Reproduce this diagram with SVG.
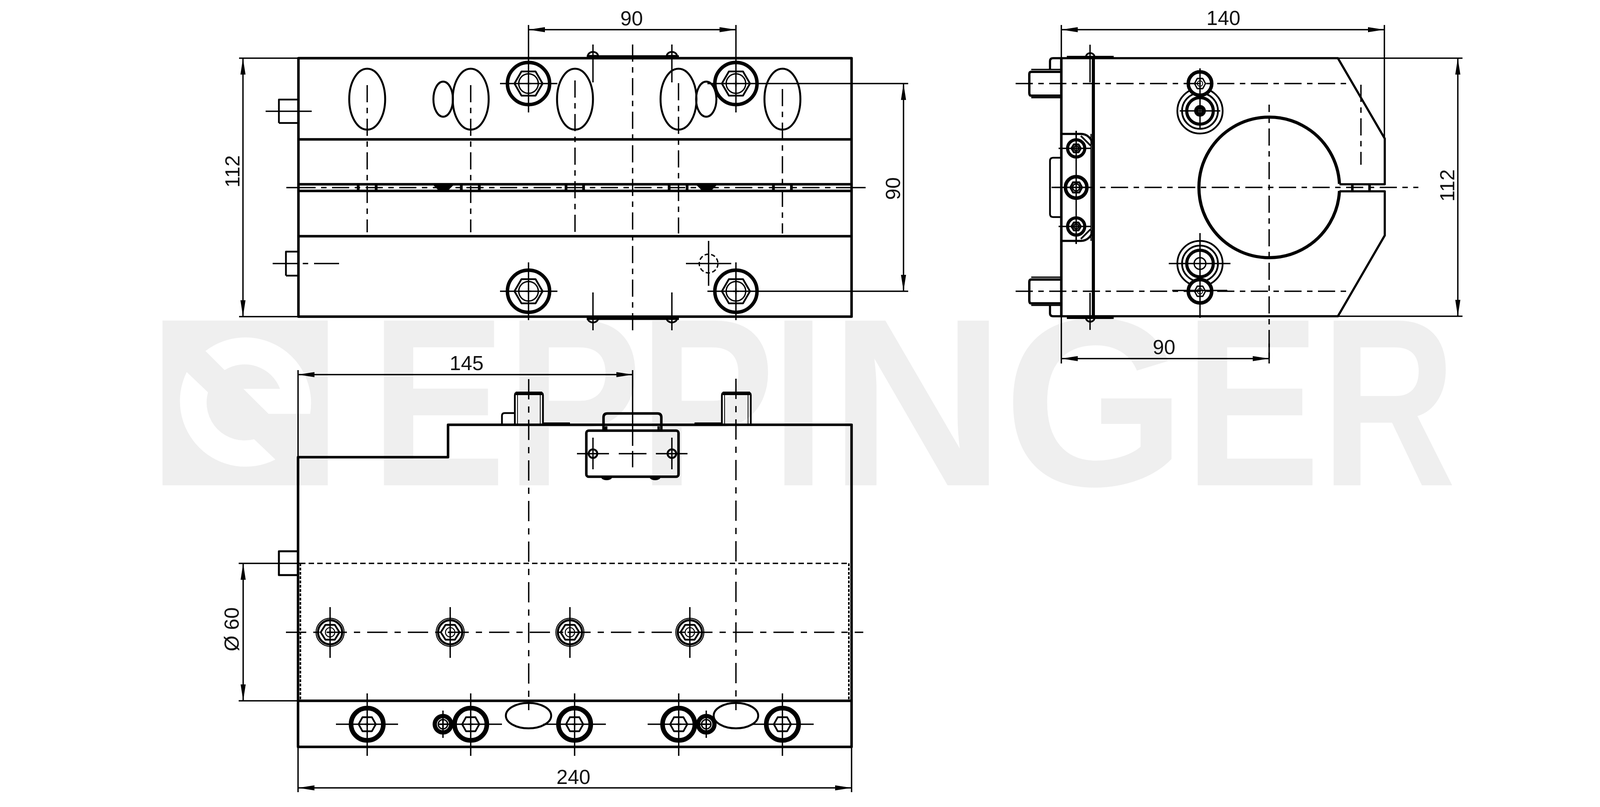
<svg xmlns="http://www.w3.org/2000/svg" width="4134" height="2067" viewBox="0 0 4134 2067">
<style>
.wm{font-family:"Liberation Sans",Arial,sans-serif;font-weight:700;font-size:613px;fill:#efefef}
.t{font-family:"Liberation Sans",Arial,sans-serif;font-size:52px;fill:#111;text-anchor:middle}
.o{fill:none;stroke:#000;stroke-width:6.5;stroke-linejoin:round}
.m{fill:none;stroke:#000;stroke-width:4.5;stroke-linejoin:round}
.n{fill:none;stroke:#000;stroke-width:3.5}
.th{fill:none;stroke:#000;stroke-width:2}
.c{fill:none;stroke:#000;stroke-width:3.5;stroke-dasharray:44 14 14 14}
.cb{fill:none;stroke:#000;stroke-width:3.5;stroke-dasharray:52 18 16 18}
.h{fill:none;stroke:#000;stroke-width:3.5;stroke-dasharray:14 8}
.hv{fill:none;stroke:#000;stroke-width:4;stroke-dasharray:7 4}
.d{fill:none;stroke:#000;stroke-width:3.5;marker-start:url(#a);marker-end:url(#a)}
.f{fill:#fff;stroke:#000}
</style>
<defs>
<marker id="a" markerUnits="userSpaceOnUse" markerWidth="44" markerHeight="14" refX="42" refY="7" orient="auto-start-reverse"><path d="M0 .5L42 7L0 13.5Z" fill="#000"/></marker>
<g id="bL"><circle r="54" class="o" style="stroke-width:9"/><path d="M-36 0L-18-31H18L36 0L18 31H-18Z" class="m"/><circle r="25" class="n"/><path d="M-7 0H7M0-7V7" class="n"/></g>
<g id="bB"><circle r="45" class="m"/><circle r="40" class="o" style="stroke-width:9"/><path d="M-22 0L-12-18H12L22 0L12 18H-12Z" class="m"/><path d="M-6 0H6M0-6V6" class="n"/></g>
<g id="bS"><circle r="36" class="th" style="stroke-width:2.5"/><circle r="31" class="o" style="stroke-width:5.5"/><path d="M-24 0L-12-19H12L24 0L12 19H-12Z" class="m"/><circle r="12" class="th" style="stroke-width:2.5"/><path d="M-6 0H6M0-6V6" class="n"/></g>
<g id="bK"><circle r="21" class="o" style="stroke-width:11"/><circle r="12" class="n"/><path d="M-12 0H12M0-12V12" class="n"/></g>
<g id="bC"><circle r="30" class="f" style="stroke-width:9"/><path d="M-14 0L-7-13H7L14 0L7 13H-7Z" class="m" style="stroke-width:3.5"/><circle r="7" class="th"/></g>
<g id="bCa"><circle r="22" class="f" style="stroke-width:8"/><path d="M-12 0L-6-10H6L12 0L6 10H-6Z" class="o" style="stroke-width:5"/><circle r="6" class="n"/></g>
<g id="bCb"><circle r="27.5" class="f" style="stroke-width:9"/><path d="M-15 0L-8-13H8L15 0L8 13H-8Z" class="o" style="stroke-width:5"/><circle r="9" class="n"/></g>
<g id="conc"><circle r="58" class="m"/><circle r="46" class="m"/><circle r="34" class="o" style="stroke-width:8"/></g>
</defs>

<g id="watermark">
<rect x="416" y="821" width="423" height="422" fill="#efefef"/>
<path d="M526 899L575 948A97 97 0 0 1 717 996H623L687.500 1060H794A168 168 0 0 0 526 899ZM478 953L532.500 1005A97 97 0 0 0 650.500 1125L705 1177A168 168 0 0 1 478 953Z" fill="#fff"/>
<text class="wm" transform="translate(948 1243) scale(.85 1)">E</text>
<text class="wm" transform="translate(1294.5 1243) scale(.855 1)">P</text>
<text class="wm" transform="translate(1634.5 1243) scale(.855 1)">P</text>
<text class="wm" transform="translate(1975 1243) scale(.81 1)">I</text>
<text class="wm" transform="translate(2122 1243) scale(1.02 1)">N</text>
<text class="wm" transform="translate(2569 1243) scale(.98 1)">G</text>
<text class="wm" transform="translate(3031 1243) scale(.855 1)">E</text>
<text class="wm" transform="translate(3382 1243) scale(.78 1)">R</text>
</g>

<g id="front-view">
<path d="M764 149H2180V811H764ZM764 357H2180M764 605H2180M764 472H2180M764 489H2180" class="o"/>
<path d="M764 480.5H2180" class="c"/>
<path d="M917 472V489M963 472V489M1181 472V489M1227 472V489M1449 472V489M1494 472V489M1713 472V489M1759 472V489M1980 472V489M2026 472V489" class="o" style="stroke-width:7"/>
<path d="M1110 475H1160L1148 487H1122ZM1784 475H1834L1822 487H1796Z" fill="#000"/>
<g class="m" style="stroke-width:5">
<ellipse cx="940" cy="254" rx="46" ry="78"/><ellipse cx="1134.5" cy="254" rx="25" ry="45"/><ellipse cx="1205" cy="254" rx="46" ry="78"/><ellipse cx="1472" cy="254" rx="46" ry="78"/><ellipse cx="1737" cy="254" rx="46" ry="78"/><ellipse cx="1808" cy="254" rx="26" ry="45"/><ellipse cx="2003" cy="254" rx="46" ry="78"/>
</g>
<path d="M940 218V595M1205 218V595M1472 206V598M1737 213V598M2003 228V598" class="c"/>
<path d="M1619.5 114V846" class="c"/>
<use href="#bL" x="1353" y="214"/><use href="#bL" x="1884" y="214"/><use href="#bL" x="1353" y="746"/><use href="#bL" x="1884" y="746"/>
<path d="M1280 214H1427M1280 746H1427M1353 672V820M1884 672V820M1353 64V288M1884 64V288M1811 214H2325M1811 746H2325" class="n"/>
<path d="M714 315V255H761M714 315H761M732 706V644.500H761M732 706H761" class="m"/>
<path d="M680 285H798M698 675H761M775 675H789M804 675H868M733 480.500H761M2181 480.500H2216" class="n"/>
<path d="M1502 145H1738M1502 816H1738" class="o" style="stroke-width:7"/>
<path d="M1505 143A13 10 0 0 1 1531 143ZM1707 143A13 10 0 0 1 1733 143ZM1505 816A13 10 0 0 0 1531 816ZM1707 816A13 10 0 0 0 1733 816Z" class="m"/>
<path d="M1518 114V211M1720 114V211M1518 749V846M1720 749V846" class="n"/>
<circle cx="1814" cy="675" r="24" class="m" style="stroke-dasharray:11 6;stroke-width:3.5"/>
<path d="M1756 675H1872M1814 617V732" class="n"/>
</g>

<g id="side-view">
<path d="M2688 178V157Q2688 149 2696 149H3425L3545 355V472H3429M3429 490H3545V603L3425 810H2696Q2688 810 2688 802V781" class="o" style="stroke-width:5.5"/>
<path d="M2717 149V810" class="o"/>
<path d="M2799 149V810" class="o" style="stroke-width:8"/>
<path d="M3429 471A180 180 0 1 0 3429 489" class="o" style="stroke-width:8"/>
<path d="M3462 472V490M3506 472V490" class="o"/>
<path d="M2731 146H2851M2731 814H2851" class="o" style="stroke-width:6"/>
<path d="M2780 146A11 10 0 0 1 2802 146ZM2780 814A11 10 0 0 0 2802 814Z" class="m"/>
<path d="M2717 184H2640Q2635 184 2635 190V238Q2635 245 2640 245H2717M2717 716H2640Q2635 716 2635 722V770Q2635 777 2640 777H2717" class="o" style="stroke-width:6"/>
<path d="M2640 178H2717M2640 250H2717M2640 710H2717M2640 782H2717" class="n"/>
<path d="M2717 404H2696Q2688 404 2688 412V548Q2688 556 2696 556H2717" class="m"/>
<use href="#conc" x="3072" y="284"/><circle cx="3072" cy="284" r="15" fill="#000"/><circle cx="3072" cy="284" r="4" fill="#fff"/>
<use href="#conc" x="3072" y="675"/><circle cx="3072" cy="675" r="15" class="n"/>
<use href="#bC" x="3072" y="214"/><use href="#bC" x="3072" y="746"/>
<path d="M2717 343H2767A30 30 0 0 1 2797 370M2717 617H2767A30 30 0 0 0 2797 590" class="o" style="stroke-width:5.5"/>
<path d="M2767 348L2792 373M2767 612L2792 587" class="m"/>
<path d="M2793 343V617" class="o" style="stroke-width:3"/>
<path d="M2755 335V625" class="n"/>
<use href="#bCa" x="2755" y="380"/><use href="#bCb" x="2755" y="480"/><use href="#bCa" x="2755" y="580"/>
<path d="M2710 380H2792M2710 580H2792M2755 335V400M2755 560V625M2755 450V510M2700 480H2790" class="n"/>
<path d="M2600 214H3449M2600 746H3449" class="c"/>
<path d="M2692 480H3631" class="c" style="stroke-dashoffset:20"/>
<path d="M3249 268V931" class="c" style="stroke-dashoffset:25"/>
<path d="M3484 217V422" class="c"/>
<path d="M2790.500 114.500V211M2790.500 750V845M3072 175V330M2992 675H3150M3072 597V814M3001 744H3142M3020 284H3124" class="n"/>
</g>

<g id="bottom-view">
<path d="M763 1913V1171H1147V1088H2180V1913ZM763 1795H2180" class="o"/>
<path d="M1390 1086H1459M1778 1086H1848" class="o" style="stroke-width:8"/>
<path d="M763 1412H714V1473H763" class="o" style="stroke-width:5"/>
<path d="M768 1443H2174" class="h"/>
<path d="M769 1443V1795M2173 1443V1795" class="hv"/>
<path d="M1285 1088V1065Q1285 1058 1292 1058H1318" class="m"/>
<path d="M1318 1088V1012Q1318 1006 1324 1006H1384Q1390 1006 1390 1012V1088ZM1848 1088V1012Q1848 1006 1854 1006H1916Q1922 1006 1922 1012V1088Z" class="m"/>
<path d="M1320 1007.500H1388M1850 1007.500H1920" class="o" style="stroke-width:9"/>
<path d="M1325 1012V1088M1383 1012V1088M1855 1012V1088M1915 1012V1088" class="th"/>
<path d="M1353.500 971V1819M1884 970V1819" class="cb"/>
<path d="M732 1619.500H2210" class="cb"/>
<use href="#bS" x="845" y="1619.500"/><use href="#bS" x="1152.500" y="1619.500"/><use href="#bS" x="1459" y="1619.500"/><use href="#bS" x="1766" y="1619.500"/>
<path d="M845 1555V1685M1152.500 1555V1685M1459 1555V1685M1766 1555V1685" class="n"/>
<ellipse cx="1353" cy="1833" rx="58" ry="32.500" class="m" style="stroke-width:5"/><ellipse cx="1884" cy="1833" rx="57" ry="32.500" class="m" style="stroke-width:5"/>
<use href="#bB" x="940" y="1855"/><use href="#bB" x="1205" y="1855"/><use href="#bB" x="1471" y="1855"/><use href="#bB" x="1737.500" y="1855"/><use href="#bB" x="2003" y="1855"/>
<use href="#bK" x="1134" y="1855"/><use href="#bK" x="1808" y="1855"/>
<path d="M860 1855H1019M940 1776V1936M1125 1855H1285M1205 1776V1936M1391 1855H1551M1471 1776V1936M1658 1855H1817M1737.500 1776V1936M1923 1855H2083M2003 1776V1936M1134 1820V1890M1808 1820V1890" class="n"/>
<path d="M1545 1103V1069Q1545 1059 1555 1059H1683Q1693 1059 1693 1069V1103" class="o"/>
<path d="M1549 1092H1555V1103H1545ZM1683 1092H1689V1103H1683Z" fill="#000"/>
<path d="M1539 1222A14 8 0 0 0 1567 1222ZM1663 1222A14 8 0 0 0 1691 1222Z" fill="#000"/>
<rect x="1501" y="1103" width="236" height="118" rx="6" class="o"/>
<circle cx="1518" cy="1162" r="11" class="m" style="stroke-width:5"/><circle cx="1720" cy="1162" r="11" class="m" style="stroke-width:5"/>
<path d="M1518 1121V1202M1720 1121V1202M1477 1162H1559M1584 1162H1655M1679 1162H1760M1619.500 1155V1197" class="n"/>
</g>

<g id="connectors">
<path d="M1353 76H1884" class="d"/>
<path d="M2313 214V746" class="d"/>
<path d="M622 149V811" class="d"/>
<path d="M612 149H764M612 811H764" class="n"/>
<path d="M2717 76H3544" class="d"/>
<path d="M2717 64V149M3544 64V355M3425 149H3744M3425 810H3744M2717 810V931M3249 880V931" class="n"/>
<path d="M3732 149V810" class="d"/>
<path d="M2717 918.500H3249" class="d"/>
<path d="M763 959.500H1619.500" class="d"/>
<path d="M763 948V1171M1619.500 948V1142" class="n"/>
<path d="M622.500 1443V1795" class="d"/>
<path d="M611 1443H768M611 1795H763" class="n"/>
<path d="M763 2018H2180" class="d"/>
<path d="M763 1913V2029M2180 1913V2029" class="n"/>
</g>

<g id="labels">
<text class="t" x="1617" y="65">90</text>
<text class="t" transform="translate(2304 483) rotate(-90)">90</text>
<text class="t" transform="translate(613 439) rotate(-90)">112</text>
<text class="t" x="3132" y="64">140</text>
<text class="t" transform="translate(3723 475) rotate(-90)">112</text>
<text class="t" x="2980" y="907">90</text>
<text class="t" x="1194.500" y="948">145</text>
<text class="t" transform="translate(611 1612) rotate(-90)">Ø 60</text>
<text class="t" x="1468" y="2008">240</text>
</g>
</svg>
